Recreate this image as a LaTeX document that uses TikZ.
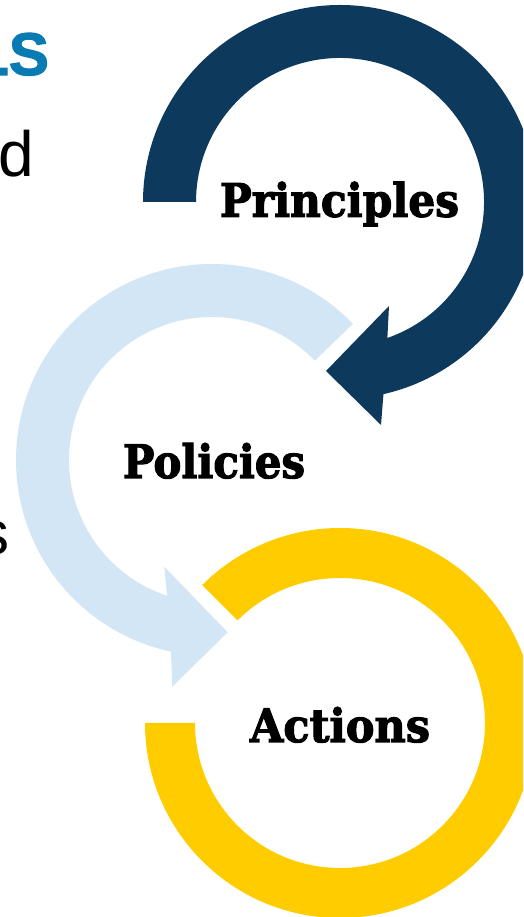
\documentclass[tikz,border=0pt]{standalone}
\usepackage{fontspec}
\usepackage{graphicx}
\setmainfont{Liberation Sans}
\newfontfamily\slabfont{DejaVu Serif}[BoldFeatures={FakeBold=2.5}]
\newfontfamily\titlefont{Liberation Sans}[BoldFeatures={FakeBold=2}]
\definecolor{darkblue}{HTML}{0D3A5C}
\definecolor{lightblue}{HTML}{D2E6F5}
\definecolor{gold}{HTML}{FFCC00}
\definecolor{titleblue}{HTML}{0A7AB3}
\tikzset{
  label text/.style={inner sep=0pt, outer sep=0pt, anchor=base west, font=\slabfont\bfseries},
  side text/.style={inner sep=0pt, outer sep=0pt, anchor=base east},
}
\begin{document}
\begin{tikzpicture}[x=1pt,y=1pt]
\useasboundingbox (0,0) rectangle (523,917);
\clip (0,0) rectangle (523,917);
% light blue arrow (Policies)
\fill[lightblue] ([shift={(212,457)}]44:196) arc[start angle=44, end angle=257.9, radius=196]
  -- (172.3,230.3) -- (227.7,284.7) -- (164.3,350.3)
  -- ([shift={(212,457)}]251.7:143) arc[start angle=251.7, end angle=44, radius=143] -- cycle;
% dark blue arrow (Principles)
\fill[darkblue] ([shift={(340,715)}]180:197) arc[start angle=180, end angle=-77.25, radius=197]
  -- (381,492) -- (326,546) -- (389,611)
  -- ([shift={(340,715)}]-70.8:144) arc[start angle=-70.8, end angle=180, radius=144] -- cycle;
% yellow ring (Actions)
\fill[gold] ([shift={(340,194)}]180:195) arc[start angle=180, end angle=495, radius=195]
  -- ([shift={(340,194)}]135:145) arc[start angle=135, end angle=-180, radius=145] -- cycle;
% labels
\node[label text] (principles) at (220,700.3) {\resizebox{239pt}{35pt}{Principles}};
\node[label text] (policies) at (123,439) {\resizebox{182pt}{35pt}{Policies}};
\node[label text] (actions) at (250,175) {\resizebox{180pt}{35pt}{Actions}};
% cut-off texts at the left
\node[side text, text=titleblue, font=\titlefont\bfseries] (title) at (49,842) {\resizebox{!}{42pt}{LS}};
\node[side text, font=\fontsize{64}{66}\selectfont] (dtext) at (34.5,740) {d};
\node[side text, font=\fontsize{62}{64}\selectfont] (stext) at (10,362) {s};
\end{tikzpicture}
\end{document}
